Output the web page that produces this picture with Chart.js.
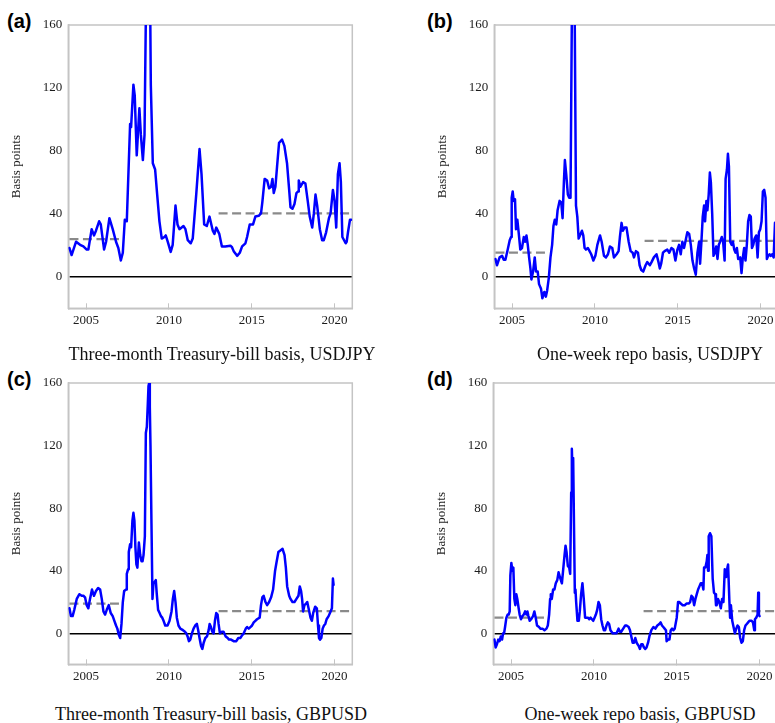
<!DOCTYPE html>
<html>
<head>
<meta charset="utf-8">
<script src="https://cdn.jsdelivr.net/npm/chart.js@4.4.1/dist/chart.umd.min.js"></script>
<style>
  html, body { margin: 0; padding: 0; background: #fff; width: 775px; height: 723px; overflow: hidden; }
  body { position: relative; }
  canvas { position: absolute; }
  .tag { position: absolute; font: bold 20px "Liberation Sans", Arial, sans-serif; line-height: 20px; color: #000; }
  .cap { position: absolute; width: 400px; text-align: center; white-space: nowrap;
         font: 18px "Liberation Serif", "Times New Roman", serif; line-height: 18px; color: #111; }
</style>
</head>
<body>
<div class="tag" style="left:7px;top:11px">(a)</div>
<div class="tag" style="left:427px;top:11px">(b)</div>
<div class="tag" style="left:7px;top:369px">(c)</div>
<div class="tag" style="left:427px;top:369px">(d)</div>

<canvas id="panelA" width="360" height="335" style="left:0;top:0"></canvas>
<canvas id="panelB" width="360" height="335" style="left:426px;top:0"></canvas>
<canvas id="panelC" width="360" height="335" style="left:0;top:358px"></canvas>
<canvas id="panelD" width="360" height="335" style="left:425px;top:358px"></canvas>

<div class="cap" style="left:22px;top:345px">Three-month Treasury-bill basis, USDJPY</div>
<div class="cap" style="left:450px;top:345px">One-week repo basis, USDJPY</div>
<div class="cap" style="left:11px;top:705px">Three-month Treasury-bill basis, GBPUSD</div>
<div class="cap" style="left:440px;top:705px">One-week repo basis, GBPUSD</div>

<script>
// Axis ticks
const yearTicks = [2005, 2010, 2015, 2020];
const basisTicks = [0, 40, 80, 120, 160];
const YEAR_MIN = 2003.93;
const YEAR_MAX = 2021.07;

// Sub-period means (dashed lines): 2004-2006 and 2013 onwards
const subPeriods = [[2004.0, 2007.0], [2013.0, YEAR_MAX]];

// Three-month Treasury-bill basis, USDJPY
const tbillJpyYears = [2004.00,2004.13,2004.40,2004.64,2004.84,2005.04,2005.14,2005.34,2005.48,2005.60,
  2005.79,2005.89,2006.09,2006.21,2006.41,2006.61,2006.81,2006.95,2007.10,2007.22,
  2007.34,2007.46,2007.66,2007.72,2007.86,2007.94,2008.06,2008.22,2008.31,2008.43,
  2008.53,2008.61,2008.69,2008.79,2008.85,2008.91,2009.03,2009.17,2009.27,2009.43,
  2009.57,2009.73,2009.81,2009.93,2010.11,2010.23,2010.40,2010.52,2010.64,2010.88,
  2011.00,2011.14,2011.32,2011.44,2011.65,2011.85,2011.97,2012.13,2012.29,2012.45,
  2012.65,2012.75,2012.86,2013.04,2013.20,2013.40,2013.71,2013.81,2013.91,2014.12,
  2014.28,2014.42,2014.62,2014.72,2014.88,2015.08,2015.22,2015.42,2015.56,2015.64,
  2015.78,2015.93,2016.05,2016.17,2016.25,2016.33,2016.43,2016.53,2016.65,2016.83,
  2016.97,2017.13,2017.26,2017.34,2017.46,2017.58,2017.70,2017.80,2017.84,2017.94,
  2018.10,2018.24,2018.38,2018.50,2018.65,2018.75,2018.85,2018.95,2019.11,2019.25,
  2019.35,2019.49,2019.66,2019.76,2019.90,2020.00,2020.10,2020.20,2020.30,2020.38,
  2020.47,2020.67,2020.73,2020.81,2020.93,2021.00];
const tbillJpyBasis = [18,13.5,22,20,19,17,17,30,26,29,
  35,33,17,22,37,30,22,18,10,15,
  36,35,97,95,122,115,77,107,90,74,
  90,165,240,260,200,122,72,68,55,35,
  24,25,26,22,15.5,20,45,33,30,32,
  30,23,21,24,52,81,65,33,32,38,
  29,27,31,27,19,19,19.5,18.5,16,13,
  15,19,21,25,33,33,38,38.5,40,47,
  62,61,56,57,62,53,57,70,85,87,
  83,72,55,44,43,46,53,54,61,57,
  60,59,48,38,31,40,52,45,30,23,
  23,28,37,40,55,48,31,65,72,60,
  25,21,22,28,36,36];
const tbillJpyMeans = [23.7, 40];

// One-week repo basis, USDJPY
const repoJpyYears = [2004.00,2004.09,2004.25,2004.40,2004.50,2004.60,2004.74,2004.86,2004.94,2004.98,
  2005.04,2005.10,2005.18,2005.24,2005.32,2005.40,2005.50,2005.60,2005.71,2005.79,
  2005.87,2005.95,2006.03,2006.11,2006.17,2006.27,2006.37,2006.45,2006.55,2006.63,
  2006.75,2006.83,2006.95,2007.04,2007.12,2007.22,2007.32,2007.42,2007.50,2007.58,
  2007.67,2007.75,2007.87,2007.97,2008.05,2008.13,2008.19,2008.27,2008.37,2008.45,
  2008.53,2008.61,2008.67,2008.75,2008.78,2008.86,2008.94,2009.02,2009.10,2009.22,
  2009.30,2009.38,2009.46,2009.58,2009.68,2009.78,2009.91,2010.03,2010.15,2010.31,
  2010.41,2010.55,2010.67,2010.79,2010.91,2011.05,2011.15,2011.31,2011.43,2011.51,
  2011.61,2011.69,2011.79,2011.91,2012.04,2012.16,2012.28,2012.36,2012.48,2012.60,
  2012.70,2012.80,2012.92,2013.06,2013.16,2013.32,2013.42,2013.56,2013.72,2013.84,
  2013.92,2014.00,2014.11,2014.21,2014.37,2014.49,2014.62,2014.74,2014.86,2014.98,
  2015.08,2015.18,2015.28,2015.38,2015.48,2015.58,2015.69,2015.79,2015.89,2015.99,
  2016.09,2016.19,2016.29,2016.35,2016.43,2016.51,2016.59,2016.65,2016.73,2016.79,
  2016.87,2016.94,2017.00,2017.08,2017.16,2017.24,2017.32,2017.40,2017.48,2017.56,
  2017.66,2017.74,2017.83,2017.89,2017.97,2018.03,2018.09,2018.17,2018.25,2018.33,
  2018.41,2018.49,2018.57,2018.65,2018.77,2018.85,2018.93,2019.01,2019.09,2019.17,
  2019.25,2019.33,2019.41,2019.48,2019.56,2019.64,2019.74,2019.82,2019.90,2019.98,
  2020.06,2020.14,2020.22,2020.30,2020.38,2020.46,2020.54,2020.62,2020.70,2020.79,
  2020.87,2020.95];
const repoJpyBasis = [11,7,12,13,10.5,10.5,17,23,25,50,
  54,48,49,30,36,28,17,18,25,22,
  26,20,12,5,-2,3,12,3,3,-5,
  -8,-14,-10,-13,-9,-1,12,20,32,36,
  33,42,48,47,37,60,74,65,52,50,
  50,165,220,200,170,45,38,24,26,29,
  26,18,17,18,16,14,10,13,20,26,
  22,13,12,14,19,18,12,14,16,25,
  34,29,31,31,22,16,15,12,16,15,
  7,4,3,7,9,7,9,12,14,9,
  5,8,15,16,17,15,18,17,10,17,
  20,14,22,18,23,28,27,20,10,5,
  1,15,22,8,22,38,45,35,48,42,
  52,66,60,40,13,15,19,11,20,22,
  25,22,10,62,68,78,70,22,20,22,
  17,15,18,11,12,2,12,18,10,20,
  35,39,38,18,20,24,26,12,28,30,
  35,54,55,50,11,13,14,13,14,12,
  34,32];
const repoJpyMeans = [15, 22.5];

// Three-month Treasury-bill basis, GBPUSD
const tbillGbpYears = [2004.00,2004.09,2004.19,2004.29,2004.44,2004.60,2004.74,2004.84,2004.94,2005.04,
  2005.14,2005.24,2005.36,2005.48,2005.60,2005.73,2005.85,2005.95,2006.05,2006.15,
  2006.25,2006.37,2006.49,2006.61,2006.71,2006.81,2006.89,2006.98,2007.06,2007.14,
  2007.22,2007.30,2007.42,2007.46,2007.54,2007.58,2007.66,2007.72,2007.80,2007.86,
  2007.92,2007.98,2008.04,2008.10,2008.19,2008.27,2008.35,2008.41,2008.47,2008.55,
  2008.61,2008.67,2008.73,2008.77,2008.81,2008.85,2008.89,2008.95,2009.01,2009.07,
  2009.15,2009.21,2009.27,2009.35,2009.44,2009.52,2009.60,2009.68,2009.78,2009.92,
  2010.04,2010.16,2010.24,2010.32,2010.40,2010.48,2010.58,2010.69,2010.85,2010.97,
  2011.05,2011.13,2011.21,2011.29,2011.39,2011.49,2011.59,2011.69,2011.77,2011.85,
  2011.94,2012.02,2012.10,2012.20,2012.30,2012.40,2012.46,2012.54,2012.62,2012.70,
  2012.78,2012.86,2012.94,2013.00,2013.08,2013.20,2013.30,2013.43,2013.55,2013.63,
  2013.75,2013.91,2014.07,2014.19,2014.31,2014.44,2014.52,2014.64,2014.72,2014.82,
  2014.92,2015.02,2015.12,2015.22,2015.32,2015.48,2015.56,2015.64,2015.72,2015.83,
  2015.93,2016.05,2016.17,2016.29,2016.41,2016.49,2016.61,2016.73,2016.86,2016.98,
  2017.06,2017.14,2017.26,2017.34,2017.46,2017.58,2017.70,2017.82,2017.90,2017.98,
  2018.04,2018.10,2018.18,2018.28,2018.35,2018.43,2018.55,2018.63,2018.71,2018.83,
  2018.93,2019.00,2019.06,2019.12,2019.20,2019.28,2019.36,2019.44,2019.52,2019.64,
  2019.76,2019.84,2019.90,2019.94];
const tbillGbpBasis = [16,11,11,15,22,25,24,24,23,18,
  16,22,28,24,27,29,28,22,14,12,
  15,18,13,11,8,5,3,-1,-3,6,
  20,27,28,38,41,52,57,55,72,77,
  72,55,44,42,58,50,46,46,50,62,
  128,132,147,158,160,145,120,70,22,32,
  33,34,25,15,13,11,10,8,5,5,
  8,14,22,27,20,10,5,3,2,1,
  0,-2,-5,-4,0,3,5,6,2,-3,
  -8,-10,-6,-3,-2,2,6,4,1,0,
  8,13,12,6,0,1,1,-2,-3,-4,
  -4,-5,-5,-3,-3,-1,0,3,4,3,
  4,5,7,8,9,10,18,23,24,20,
  18,20,23,28,40,45,52,53,54,50,
  42,30,24,22,20,20,22,24,30,27,
  22,14,18,19,20,16,10,8,13,17,
  16,5,-3,-4,-3,3,5,6,9,11,
  14,16,35,31];
const tbillGbpMeans = [19, 14.2];

// One-week repo basis, GBPUSD
const repoGbpYears = [2004.00,2004.07,2004.15,2004.23,2004.31,2004.38,2004.46,2004.52,2004.58,2004.64,
  2004.72,2004.80,2004.86,2004.92,2004.96,2005.02,2005.08,2005.14,2005.20,2005.26,
  2005.32,2005.38,2005.46,2005.52,2005.60,2005.69,2005.77,2005.85,2005.93,2005.99,
  2006.05,2006.13,2006.21,2006.33,2006.41,2006.49,2006.57,2006.69,2006.77,2006.90,
  2007.02,2007.14,2007.22,2007.30,2007.36,2007.40,2007.46,2007.54,2007.62,2007.70,
  2007.79,2007.87,2007.95,2008.07,2008.15,2008.23,2008.29,2008.35,2008.43,2008.51,
  2008.57,2008.63,2008.67,2008.71,2008.75,2008.79,2008.85,2008.89,2008.93,2009.01,
  2009.09,2009.15,2009.23,2009.31,2009.39,2009.47,2009.56,2009.64,2009.72,2009.80,
  2009.88,2009.96,2010.04,2010.12,2010.20,2010.28,2010.36,2010.44,2010.52,2010.60,
  2010.68,2010.76,2010.84,2010.92,2011.00,2011.13,2011.25,2011.37,2011.49,2011.57,
  2011.65,2011.77,2011.89,2011.97,2012.10,2012.18,2012.26,2012.34,2012.42,2012.50,
  2012.58,2012.70,2012.78,2012.86,2012.94,2013.02,2013.10,2013.18,2013.27,2013.35,
  2013.47,2013.59,2013.71,2013.83,2013.95,2014.03,2014.11,2014.19,2014.27,2014.35,
  2014.39,2014.47,2014.56,2014.64,2014.72,2014.80,2014.88,2015.00,2015.08,2015.16,
  2015.24,2015.36,2015.48,2015.60,2015.72,2015.81,2015.89,2015.97,2016.05,2016.13,
  2016.21,2016.29,2016.37,2016.45,2016.53,2016.61,2016.65,2016.73,2016.81,2016.85,
  2016.89,2016.93,2017.01,2017.09,2017.17,2017.25,2017.33,2017.37,2017.41,2017.49,
  2017.57,2017.66,2017.74,2017.82,2017.90,2017.98,2018.06,2018.10,2018.18,2018.22,
  2018.27,2018.35,2018.43,2018.51,2018.59,2018.67,2018.75,2018.83,2018.91,2018.99,
  2019.07,2019.15,2019.23,2019.31,2019.39,2019.52,2019.60,2019.68,2019.72,2019.80,
  2019.88,2019.92,2019.96,2020.00];
const repoGbpBasis = [-4,-9,-7,-4,-5,-2,-4,0,0,4,
  10,12,12,14,37,45,40,42,22,18,
  25,22,16,12,9,11,12,14,12,14,
  11,8,9,11,14,10,5,4,3,3,
  2,3,5,12,22,25,22,28,28,32,
  34,39,36,32,41,50,56,52,43,42,
  38,90,118,104,112,112,26,28,20,8,
  8,14,25,32,22,10,10,10,9,10,
  9,8,10,12,15,20,18,9,5,2,
  2,5,7,6,2,0,0,0,3,1,
  1,3,5,5,4,2,-2,-6,-6,-3,
  -6,-8,-10,-7,-7,-9,-10,-9,-6,-2,
  2,4,3,5,6,7,5,4,3,2,
  -5,-4,-4,2,3,2,3,10,20,20,
  19,18,18,19,19,20,24,23,18,22,
  25,28,30,32,32,28,42,42,46,50,
  40,62,64,62,35,26,25,18,18,22,
  20,16,22,20,41,36,42,44,20,10,
  18,8,4,0,3,5,4,-3,-6,-5,
  2,5,6,7,8,8,7,2,9,10,
  12,26,12,11];
const repoGbpMeans = [10, 14.2];

const SERIF = "'Liberation Serif', 'Times New Roman', Times, serif";
const FRAME = '#c4c4c4';
const INK = '#1c1c1c';

Chart.defaults.font.family = SERIF;
Chart.defaults.font.size = 13;
Chart.defaults.color = INK;

// Light grey box around the plotting area
const framePlugin = {
  id: 'frame',
  beforeDatasetsDraw(chart) {
    const a = chart.chartArea, c = chart.ctx;
    c.save();
    c.strokeStyle = FRAME;
    c.lineWidth = 1.5;
    c.strokeRect(a.left, a.top, a.right - a.left, a.bottom - a.top);
    c.restore();
  }
};

function makePanel(canvasId, years, values, means, yMin, xAxisHeight) {
  const series = years.map((x, i) => ({ x, y: values[i] }));
  const meanLines = subPeriods.map((p, i) => ({
    data: [{ x: p[0], y: means[i] }, { x: p[1], y: means[i] }],
    borderColor: '#8a8a8a', borderWidth: 2.2, borderDash: [9, 4.5],
    pointRadius: 0, clip: 0
  }));
  return new Chart(document.getElementById(canvasId), {
    type: 'line',
    data: {
      datasets: [{
        data: series, borderColor: '#0000ff', borderWidth: 2.5,
        pointRadius: 0, tension: 0, clip: 0,
        borderJoinStyle: 'round', borderCapStyle: 'round'
      }, ...meanLines]
    },
    options: {
      responsive: false, animation: false, devicePixelRatio: 1,
      layout: { padding: { top: 25, right: 7.7, left: 0, bottom: 0 } },
      plugins: { legend: { display: false }, tooltip: { enabled: false } },
      scales: {
        x: {
          type: 'linear', min: YEAR_MIN, max: YEAR_MAX,
          afterBuildTicks: s => { s.ticks = yearTicks.map(v => ({ value: v })); },
          afterFit: s => { s.height = xAxisHeight; },
          ticks: { callback: v => String(v), font: { family: SERIF, size: 13 }, color: INK,
                   padding: 9.7, maxRotation: 0, autoSkip: false },
          grid: { drawOnChartArea: false, drawTicks: true, tickLength: -5, color: FRAME, lineWidth: 1 },
          border: { display: true, color: FRAME, width: 1.5 }
        },
        y: {
          min: yMin, max: 160,
          afterBuildTicks: s => { s.ticks = basisTicks.map(v => ({ value: v })); },
          afterFit: s => { s.width = 68.3; },
          ticks: { font: { family: SERIF, size: 13 }, color: INK, padding: 6 },
          grid: { drawTicks: false, lineWidth: 1.5,
                  color: c => (c.tick && c.tick.value === 0) ? '#000' : 'rgba(0,0,0,0)' },
          border: { display: true, color: FRAME, width: 1.5 },
          title: { display: true, text: 'Basis points', color: INK,
                   font: { family: SERIF, size: 13 }, padding: { top: 9, bottom: 0 } }
        }
      }
    },
    plugins: [framePlugin]
  });
}

function drawAll() {
  makePanel('panelA', tbillJpyYears, tbillJpyBasis, tbillJpyMeans, -20.4, 26.7);
  makePanel('panelB', repoJpyYears, repoJpyBasis, repoJpyMeans, -20.4, 26.7);
  makePanel('panelC', tbillGbpYears, tbillGbpBasis, tbillGbpMeans, -19.8, 28.7);
  makePanel('panelD', repoGbpYears, repoGbpBasis, repoGbpMeans, -19.8, 28.7);
}

// Make sure the serif face is ready before the canvases draw their labels
if (document.fonts && document.fonts.load) {
  document.fonts.load("13px 'Liberation Serif'").then(drawAll, drawAll);
} else {
  drawAll();
}
</script>
</body>
</html>
